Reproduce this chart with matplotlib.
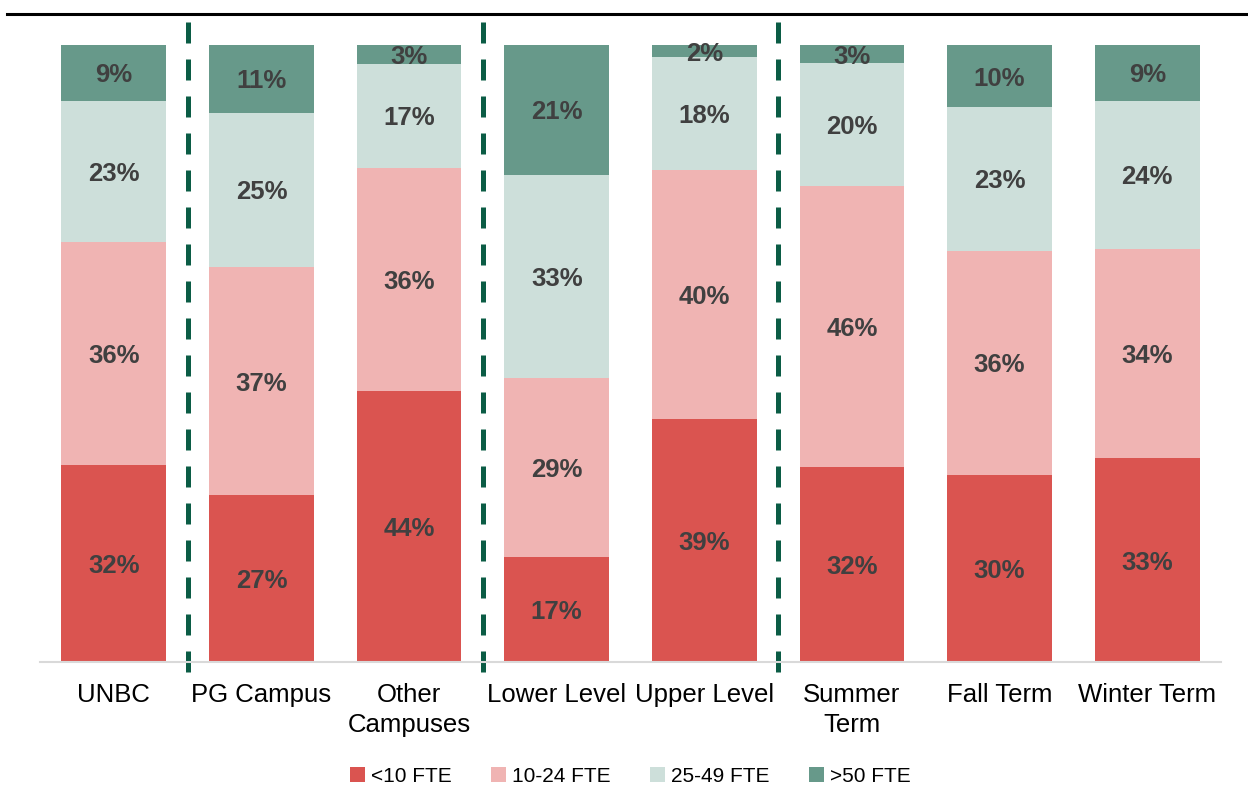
import matplotlib.pyplot as plt
import numpy as np
from matplotlib.lines import Line2D

plt.rcParams['font.family'] = ['Liberation Sans', 'DejaVu Sans']

categories = ['UNBC', 'PG Campus', 'Other\nCampuses', 'Lower Level', 'Upper Level',
              'Summer\nTerm', 'Fall Term', 'Winter Term']
series = ['<10 FTE', '10-24 FTE', '25-49 FTE', '>50 FTE']
lt10 = [32, 27, 44, 17, 39, 32, 30, 33]
f10_24 = [36, 37, 36, 29, 40, 46, 36, 34]
f25_49 = [23, 25, 17, 33, 18, 20, 23, 24]
gt50 = [9, 11, 3, 21, 2, 3, 10, 9]
colors = ['#DA5450', '#F0B4B3', '#CDDFDA', '#67998A']
dividers = [0.5, 2.5, 4.5]

vals = np.array([lt10, f10_24, f25_49, gt50], dtype=float)
shares = vals / vals.sum(axis=0)

fig = plt.figure(figsize=(12.48, 7.89), dpi=100)
ax = fig.add_axes([40 / 1248, 1 - 662 / 789, 1181 / 1248, 617 / 789])

x = np.arange(len(categories))
bottom = np.zeros(len(categories))
for i, name in enumerate(series):
    ax.bar(x, shares[i], 0.71, bottom=bottom, color=colors[i], label=name)
    for j in range(len(categories)):
        ax.text(x[j], bottom[j] + shares[i][j] / 2, f'{int(vals[i][j])}%',
                ha='center', va='center_baseline', fontsize=18.5, fontweight='bold',
                color='#404040')
    bottom += shares[i]

for d in dividers:
    ax.plot([d, d], [-0.016, 1.045], color='#0B5C45', lw=3.6,
            linestyle=(0, (4.2, 3.2)), clip_on=False)

ax.set_xlim(-0.5, 7.5)
ax.set_ylim(0, 1)
ax.set_yticks([])
ax.set_xticks(x)
ax.set_xticklabels(categories, fontsize=18.5, linespacing=1.32)
ax.tick_params(axis='x', length=0, pad=15)
for s in ['top', 'right', 'left']:
    ax.spines[s].set_visible(False)
ax.spines['bottom'].set_color('#D9D9D9')
ax.spines['bottom'].set_linewidth(1.5)

fig.add_artist(Line2D([7 / 1248, 1], [1 - 14 / 789, 1 - 14 / 789], color='black', lw=2.2))

ax.legend(loc='center', bbox_to_anchor=(0.5, -0.185), ncol=4, frameon=False, fontsize=15,
          handlelength=0.7, handleheight=0.7, handletextpad=0.3, columnspacing=1.9)

plt.savefig('out.png', dpi=100)
